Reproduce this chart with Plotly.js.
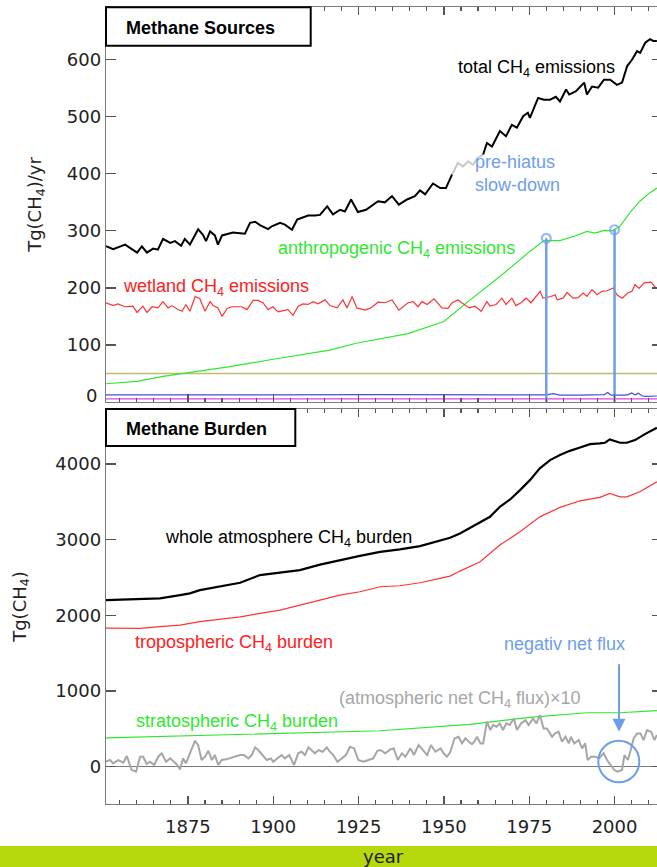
<!DOCTYPE html>
<html><head><meta charset="utf-8">
<script src="https://cdn.plot.ly/plotly-3.0.1.min.js"></script>
<style>html,body{margin:0;padding:0;overflow:hidden;background:#fff}#chart{width:662px;height:867px}</style>
</head><body><div id="chart"></div><script>
// ---------- Top panel: Methane Sources, Tg(CH4)/yr ----------
const totalYearsA = [1851,1853.1,1856.6,1860.1,1861.5,1863,1864.8,1866.2,1867.7,1869.8,1871.2,1873,1874.1,1875.6,1878,1879.4,1880.3,1881.5,1882.9,1883.8,1885,1886.7,1888.2,1890.3,1891.7,1893.2,1894.7,1896.1,1898.5,1899.6,1902,1903.4,1905.5,1907,1908.7,1910.2,1912.2,1913.7,1915.8,1917.5,1919.6,1921,1922.8,1924.8,1927.2,1930.7,1932.7,1934.8,1936.8,1939.2,1941.5,1943,1944.5,1946.8,1948.9,1950.6,1952.4];
const totalValsA = [273,268,276,262,273,262,269,267,286,279,282,274,286,276,303,293,282,299,292,276,292,294,297,296,295,314,316,310,303,308,314,311,302,320,323,327,327,328,343,329,337,334,355,333,337,352,350,361,346,355,361,371,364,383,375,375,399];
const totalYearsGray = [1952.4,1953.4,1954.1,1955.6,1957.1,1958.5,1960,1961.5];
const totalValsGray = [399,410,419,413,422,416,428,434];
const totalYearsB = [1961.5,1962.6,1964.1,1966.4,1968.2,1969.9,1971.4,1973.2,1974.6,1975.2,1977.6,1979.3,1981.1,1982.8,1984,1985.8,1986.7,1988.7,1991.1,1991.9,1993.4,1995.2,1996.9,1998.7,2000.7,2002.2,2003.7,2005.1,2006.6,2007.5,2009,2010.4,2011.3,2012.4];
const totalValsB = [434,454,448,475,466,486,481,501,507,498,533,530,530,535,527,548,539,545,560,539,553,551,565,565,556,560,589,600,615,612,630,636,633,633];

const wetYears = [1851.0,1853.1,1854.5,1856.6,1858.9,1860.1,1861.8,1863.0,1864.5,1866.2,
1867.7,1869.2,1870.3,1872.1,1873.3,1874.4,1875.6,1877.1,1878.5,1880.0,
1881.5,1882.4,1883.8,1885.0,1886.5,1887.9,1889.4,1890.8,1892.3,1894.1,
1895.5,1897.0,1898.5,1899.9,1901.4,1902.9,1904.3,1905.8,1907.3,1908.7,
1910.2,1911.7,1913.1,1915.2,1916.6,1918.7,1920.4,1921.6,1923.1,1924.5,
1926.9,1928.6,1930.7,1932.7,1934.8,1936.8,1939.5,1941.0,1942.4,1943.6,
1945.1,1947.1,1949.4,1951.2,1952.4,1954.1,1955.9,1957.4,1959.1,1960.9,
1962.6,1963.5,1965.3,1967.0,1968.2,1969.9,1971.1,1972.6,1974.1,1975.5,
1978.2,1979.0,1981.4,1982.6,1983.2,1984.9,1986.1,1987.8,1989.3,1990.8,
1991.9,1993.4,1994.9,1996.3,1997.8,1999.6,2000.7,2002.2,2003.9,2005.1,
2006.0,2007.2,2008.7,2010.7,2012.2];
const wetVals = [174,169,172,167,168,157,168,157,167,165,
176,165,169,162,159,171,159,185,181,159,
176,169,165,150,164,167,167,167,162,178,
178,174,162,167,158,160,162,152,168,172,
171,176,172,179,169,165,179,165,185,165,
161,165,175,174,179,161,174,176,167,176,
171,181,165,164,174,179,172,165,168,159,
176,168,171,182,171,182,169,174,182,174,
194,182,185,188,179,182,192,182,183,191,
185,197,188,194,195,200,188,182,191,194,
206,199,209,210,199];

const anthYears = [1851,1855.1,1860.1,1867.7,1875.6,1887.3,1899.1,1909.6,1916.6,1924.3,1939.5,1950.0,1957.7,1966.4,1972.3,1975.2,1979.3,1984.0,1988.4,1991.9,1994.3,1996.9,1999.3,2001.6,2004.5,2007.4,2010.4,2012.4];
const anthVals = [32,34,36,45,52,62,74,85,91,103,120,141,179,220,250,264,283,283,291,299,296,301,300,308,332,352,367,375];

const oliveYears = [1851,2013.9];
const oliveVals = [50,50];
const magentaYears = [1851,2013.9];
const magentaVals = [5.3,5.3];
const blueYears = [1851,1870,1900,1930,1950,1975,1978,1980,1982,1984,1990,1995,1997,1998,1999,2003,2004,2005,2006,2007,2008,2009,2012.4];
const blueVals = [12.5,13,12.5,13,12.5,12,12,12.5,14.5,12,12,12,13,16.5,12,12,13,16,12.5,15.5,11,10,10.5];

const hiatusYears = [1980,2000];
const hiatusVals = [287,302];

// ---------- Bottom panel: Methane Burden, Tg(CH4) ----------
const wholeYears = [1851,1861,1866.8,1872.7,1875.6,1878.5,1884.4,1890.3,1896.1,1902,1907.8,1913.7,1919.5,1925.4,1931.3,1937.1,1943,1948.8,1951.8,1954.7,1960.6,1963.5,1966.4,1969.4,1972.3,1975.2,1978.1,1981.1,1984,1986.9,1989.9,1992.8,1995.7,1997.2,1998.6,2000.1,2001.6,2003.6,2006,2008.9,2011.8,2012.4];
const wholeVals = [2202,2211,2224,2268,2290,2334,2378,2431,2532,2563,2598,2671,2730,2787,2840,2871,2915,2981,3025,3083,3228,3302,3435,3532,3655,3787,3942,4052,4118,4174,4219,4263,4272,4281,4325,4307,4281,4281,4316,4395,4461,4480];
const tropYears = [1851,1861,1866.8,1872.7,1878.5,1890.3,1902,1913.7,1919.5,1925.4,1931.3,1937.1,1943,1948.8,1951.8,1954.7,1960.6,1966.4,1972.3,1978.1,1984,1989.9,1995.7,1998.6,2001.6,2003.6,2007.4,2012.4];
const tropVals = [1832,1828,1850,1872,1916,1981,2070,2202,2268,2312,2378,2391,2431,2489,2519,2585,2708,2929,3104,3302,3427,3514,3559,3612,3567,3567,3633,3765];
const stratYears = [1851,1878.5,1907.8,1931.3,1957.7,1975.2,1991.9,2001.6,2012.4];
const stratVals = [380,410,449,475,560,653,713,713,740];

const fluxYears = [1851.0,1852.2,1853.1,1854.6,1856.1,1857.1,1858.5,1859.8,1861.0,1861.9,
1862.9,1863.9,1865.1,1866.3,1867.3,1868.6,1869.8,1870.9,1871.9,1872.7,
1873.6,1874.4,1875.6,1877.1,1878.0,1879.0,1880.0,1881.0,1882.0,1882.9,
1883.9,1884.9,1886.2,1887.3,1888.8,1890.3,1891.4,1892.7,1893.7,1894.7,
1895.6,1897.1,1898.1,1899.3,1900.0,1901.2,1902.5,1903.4,1904.7,1906.1,
1907.3,1908.3,1909.3,1910.3,1911.3,1912.2,1913.2,1914.5,1915.7,1916.6,
1917.6,1918.8,1920.1,1921.3,1922.5,1923.7,1924.9,1926.4,1927.9,1929.3,
1930.5,1931.4,1932.8,1934.3,1935.3,1936.5,1937.7,1938.7,1940.2,1941.2,
1942.6,1943.9,1945.1,1946.2,1947.5,1949.0,1949.9,1950.9,1951.9,1953.1,
1954.3,1955.3,1956.3,1957.3,1958.2,1958.9,1959.7,1960.7,1961.5,1962.6,
1963.6,1964.4,1965.4,1966.4,1967.3,1968.3,1969.3,1970.5,1971.4,1972.6,
1973.9,1974.8,1976.1,1977.1,1978.1,1979.2,1980.2,1981.7,1982.6,1983.6,
1984.6,1985.6,1986.6,1987.2,1988.2,1989.5,1990.5,1991.4,1992.1,1993.1,
1994.4,1995.4,1996.8,1997.8,1998.8,1999.9,2000.9,2002.2,2002.9,2003.9,
2004.6,2005.6,2006.6,2007.6,2008.5,2009.5,2010.7,2011.7,2012.4];
const fluxVals = [66,88,44,88,53,141,-44,-66,132,132,
35,66,22,132,177,66,110,66,22,-35,
110,44,177,343,286,88,132,211,88,154,
22,88,97,110,132,154,154,110,154,256,
220,132,88,110,66,110,154,110,154,22,
177,198,154,256,220,177,220,198,256,198,
154,66,110,154,264,242,88,66,88,110,
210,220,177,229,242,88,177,132,242,154,
286,220,154,286,198,242,177,132,198,374,
396,308,374,330,299,330,396,308,308,594,
484,550,528,572,484,572,550,638,484,572,
616,550,638,572,682,506,506,396,440,462,
330,396,308,396,308,352,242,308,88,132,
132,110,177,88,22,-44,-66,-44,154,88,
198,374,440,440,352,484,462,352,420];

const topTicks = [100,200,300,400,500,600];
const botTicks = [0,1000,2000,3000,4000];
const xTicks = [1875,1900,1925,1950,1975,2000];

// ---------- styling ----------
const GREEN = '#2ee82e', RED = '#ff3333', BLUEA = '#6d9eeb', GRAY = '#a6a6a6';
const L = 106, W = 556, B = 804, H = 797;
const px = X => (X - L) / W;
const py = Y => (B - Y) / H;

function ln(x, y, color, width, xa, ya) {
  return {x, y, type:'scatter', mode:'lines', line:{color, width}, xaxis:xa, yaxis:ya, hoverinfo:'skip', showlegend:false};
}
const traces = [
  ln(oliveYears, oliveVals, '#bdbd6e', 1.5, 'x2', 'y2'),
  ln(magentaYears, magentaVals, '#e040e0', 1.2, 'x2', 'y2'),
  ln(blueYears, blueVals, '#4a4ae0', 1.2, 'x2', 'y2'),
  ln(anthYears, anthVals, GREEN, 1.2, 'x2', 'y2'),
  ln(wetYears, wetVals, RED, 1.2, 'x2', 'y2'),
  ln(totalYearsA, totalValsA, '#000', 2, 'x2', 'y2'),
  ln(totalYearsGray, totalValsGray, '#c8c8c8', 2, 'x2', 'y2'),
  ln(totalYearsB, totalValsB, '#000', 2, 'x2', 'y2'),
  ln(stratYears, stratVals, GREEN, 1.2, 'x', 'y'),
  ln(fluxYears, fluxVals, GRAY, 2, 'x', 'y'),
  ln(tropYears, tropVals, RED, 1.2, 'x', 'y'),
  ln(wholeYears, wholeVals, '#000', 2.2, 'x', 'y'),
];
hiatusYears.forEach((yr, i) => {
  traces.push({x:[yr, yr], y:[0, hiatusVals[i]], type:'scatter', mode:'lines+markers',
    line:{color:BLUEA, width:2.5}, marker:{size:[0, 9], symbol:'circle-open', color:BLUEA, line:{width:2.2, color:BLUEA}},
    xaxis:'x2', yaxis:'y2', hoverinfo:'skip', showlegend:false, cliponaxis:false});
});

const tickFont = {family:'DejaVu Sans', size:18, color:'#222'};
const axCommon = {showline:true, linecolor:'#7a7a7a', linewidth:1.3, mirror:'ticks', ticks:'inside', tickcolor:'#555', tickwidth:1.2, showgrid:false, zeroline:false};
const xCommon = Object.assign({}, axCommon, {range:[1851, 2013.9], tickvals:xTicks, ticklen:8,
  minor:{dtick:5, tick0:1850, ticklen:4, ticks:'inside', tickcolor:'#555', showgrid:false}});

const aFont = (color, size) => ({family:'Liberation Sans, Arial, sans-serif', size: size || 18, color});
const ann = (text, X, Y, color, extra) => Object.assign({text, x:px(X), y:py(Y), xref:'paper', yref:'paper', showarrow:false, font:aFont(color), xanchor:'center', yanchor:'middle'}, extra || {});

const layout = {
  width:662, height:867, margin:{l:L, r:0, t:7, b:63},
  paper_bgcolor:'#fff', plot_bgcolor:'#fff', showlegend:false,
  xaxis: Object.assign({}, xCommon, {anchor:'y', tickfont:tickFont, ticklabelstandoff:6}),
  xaxis2: Object.assign({}, xCommon, {anchor:'y2', matches:'x', showticklabels:false}),
  yaxis: Object.assign({}, axCommon, {domain:[0, 0.4956], range:[-493, 4727], tickvals:botTicks, ticklen:10, tickfont:tickFont,
    zeroline:true, zerolinecolor:'#7a7a7a', zerolinewidth:1.3,
    title:{text:'Tg(CH<sub>4</sub>)', font:tickFont, standoff:24}}),
  yaxis2: Object.assign({}, axCommon, {domain:[0.5044, 1], range:[0, 692.5], tickvals:topTicks, ticklen:10, tickfont:tickFont,
    title:{text:'Tg(CH<sub>4</sub>)/yr', font:tickFont, standoff:20}}),
  shapes: [
    {type:'rect', xref:'paper', yref:'paper', x0:px(-10), x1:px(700), y0:py(867), y1:py(846), fillcolor:'#b6d90e', line:{width:0}, layer:'above'},
    {type:'rect', xref:'paper', yref:'paper', x0:px(106), x1:px(310.7), y0:py(45.7), y1:py(7.3), fillcolor:'#fff', line:{color:'#000', width:2}, layer:'above'},
    {type:'rect', xref:'paper', yref:'paper', x0:px(106), x1:px(295.3), y0:py(446), y1:py(409), fillcolor:'#fff', line:{color:'#000', width:2}, layer:'above'},
    {type:'circle', xref:'paper', yref:'paper', x0:px(598.3), x1:px(639.3), y0:py(782.3), y1:py(740.7), line:{color:BLUEA, width:2}, layer:'above'},
  ],
  annotations: [
    ann('<b>Methane Sources</b>', 124, 28.3, '#000', {xanchor:'left'}),
    ann('<b>Methane Burden</b>', 124, 429, '#000', {xanchor:'left'}),
    ann('total CH<sub>4</sub> emissions', 536.7, 68, '#000'),
    ann('pre-hiatus<br>slow-down', 473, 174, BLUEA, {xanchor:'left', align:'left'}),
    ann('anthropogenic CH<sub>4</sub> emissions', 396, 249, GREEN),
    ann('wetland CH<sub>4</sub> emissions', 215.5, 287, '#ff2020'),
    ann('whole atmosphere CH<sub>4</sub> burden', 288.5, 538, '#000'),
    ann('tropospheric CH<sub>4</sub> burden', 233.5, 643, '#ff2020'),
    ann('stratospheric CH<sub>4</sub> burden', 237, 722, GREEN),
    ann('(atmospheric net CH<sub>4</sub> flux)×10', 460, 699, GRAY),
    ann('negativ net flux', 564, 644, BLUEA),
    {x:px(619), y:py(731.7), xref:'paper', yref:'paper', text:'', showarrow:true, ax:0, ay:-69, axref:'pixel', ayref:'pixel',
     arrowhead:2, arrowsize:1.3, arrowwidth:2, arrowcolor:BLUEA},
    ann('0', 98.7, 395.5, '#222', {xanchor:'right', font:tickFont}),
    ann('year', 383.3, 856.7, '#222', {font:{family:'DejaVu Sans', size:18, color:'#222'}}),
  ],
};

Plotly.newPlot('chart', traces, layout, {displayModeBar:false, staticPlot:true});
</script></body></html>
